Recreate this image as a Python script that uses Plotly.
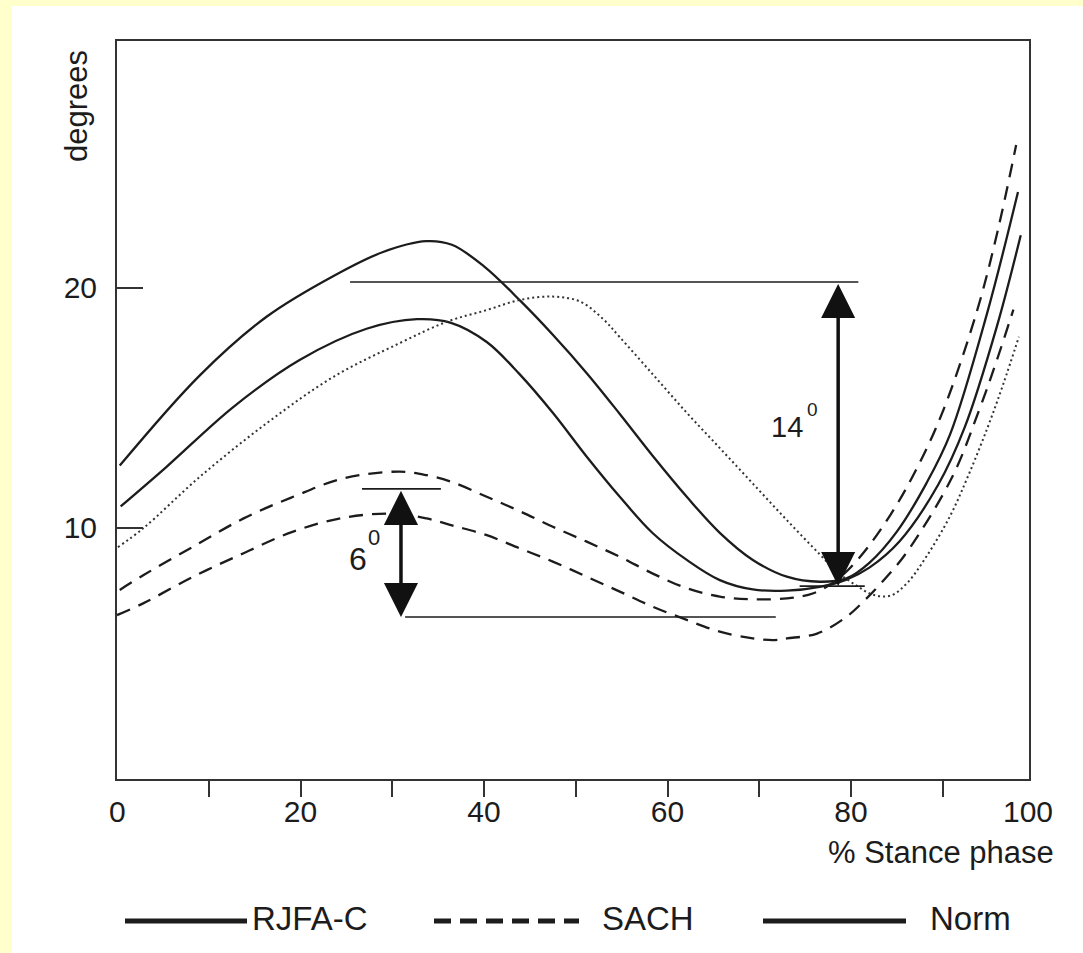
import plotly.graph_objects as go

# ---------------- data ----------------
# RJFA-C, upper solid curve
rjfa_up_x = [0.3, 9, 16.3, 23.6, 29, 33.7, 36.5, 40, 44, 47.5, 51.2, 54.8, 58.4,
             62.1, 65.7, 69.3, 73, 76.6, 79.5, 82, 85, 88.2, 90.8, 94.8, 98.2]
rjfa_up_y = [12.6, 16.35, 18.8, 20.5, 21.5, 21.95, 21.8, 20.9, 19.45, 18.05, 16.45, 14.75, 13.0,
             11.3, 9.8, 8.67, 7.97, 7.76, 7.9, 8.55, 9.85, 11.85, 13.9, 18.9, 24.0]
# RJFA-C, lower solid curve
rjfa_lo_x = [0.4, 5.4, 12.7, 19.9, 27.2, 32.7, 36.4, 40.3, 43.9, 47.5, 51.2, 54.8, 58.4,
             62.1, 65.7, 69.3, 73, 76.6, 79.5, 82, 85.3, 89.5, 92.4, 95.9, 98.5]
rjfa_lo_y = [10.9, 12.55, 15.05, 17.0, 18.3, 18.7, 18.55, 17.75, 16.4, 14.8, 12.97, 11.3, 9.78,
             8.67, 7.83, 7.44, 7.39, 7.55, 7.85, 8.35, 9.45, 11.8, 14.2, 18.4, 22.2]
# SACH, upper dashed curve
sach_up_x = [0.3, 2.9, 8.3, 13.8, 19.2, 24.6, 30.8, 33.75, 36.6, 40.3, 43.9, 47.5, 51.2, 54.8,
             58.4, 62.1, 65.7, 69.3, 73, 75.9, 78.5, 81, 84.3, 87.2, 90, 93.7, 96, 98.0]
sach_up_y = [7.42, 8.04, 9.22, 10.4, 11.3, 12.06, 12.35, 12.2, 11.9, 11.3, 10.7, 10.05, 9.43, 8.8,
             8.1, 7.49, 7.14, 7.03, 7.07, 7.28, 7.85, 8.8, 10.55, 12.5, 14.85, 19.0, 22.4, 25.96]
# SACH, lower dashed curve
sach_lo_x = [0, 2.9, 8.3, 13.8, 19.2, 24.6, 30.1, 33.75, 36.6, 40.3, 43.9, 47.5, 51.2, 54.8,
             58.4, 62.1, 65.7, 69.3, 71.7, 73, 76.3, 79.5, 81.7, 83.9, 86.1, 91, 94.0, 95.9, 97.7]
sach_lo_y = [6.37, 6.87, 7.97, 8.95, 9.85, 10.42, 10.6, 10.4, 10.1, 9.7, 9.15, 8.6, 7.97, 7.35,
             6.72, 6.17, 5.68, 5.4, 5.33, 5.4, 5.6, 6.3, 7.07, 7.97, 9.0, 12.1, 14.95, 17.0, 19.1]
# Norm, dotted curve
norm_x = [0.1, 2.9, 9.05, 16.3, 23.6, 30.8, 36, 40.3, 43.9, 47.5, 50.5, 53, 54.8, 58.4, 62.1,
          65.7, 69.3, 73, 76.6, 78.4, 80.6, 82.4, 84.3, 86.1, 88.2, 90.8, 92.8, 94.9, 96.6, 98.3]
norm_y = [9.2, 10.0, 12.14, 14.36, 16.3, 17.7, 18.6, 19.08, 19.5, 19.64, 19.43, 18.7, 17.95, 16.4,
          14.8, 13.33, 11.85, 10.33, 8.9, 8.2, 7.6, 7.22, 7.18, 7.7, 8.8, 10.5, 12.2, 14.2, 16.0, 17.97]

# range markers of the two annotated differences
diff14_x = 78.6
diff14_top, diff14_bottom = 20.25, 7.58
diff14_top_line_x = [25.4, 80.8]
diff14_bottom_line_x = [74.4, 81.5]
diff6_x = 30.95
diff6_top, diff6_bottom = 11.63, 6.29
diff6_top_line_x = [26.7, 35.3]
diff6_bottom_line_x = [31.4, 71.8]

x_tick_vals = [10, 20, 30, 40, 50, 60, 70, 80, 90]
x_tick_text = ["", "20", "", "40", "", "60", "", "80", ""]
y_tick_vals = [10, 20]
y_tick_text = ["10", "20"]

legend_labels = ["RJFA-C", "SACH", "Norm"]

# ---------------- figure ----------------
INK = "#1c1c1c"
FONT = "Liberation Sans, Arial, sans-serif"

W, H = 1083, 953
L, R, T, B = 117, 54, 41, 174
PW, PH = W - L - R, H - T - B


def px_x(px):
    return (px - L) / PW


def px_y(py):
    return (H - B - py) / PH


fig = go.Figure()

curve_style = dict(shape="spline", smoothing=1.0)
fig.add_trace(go.Scatter(x=rjfa_up_x, y=rjfa_up_y, mode="lines", name="RJFA-C",
                         line=dict(color=INK, width=2.3, **curve_style)))
fig.add_trace(go.Scatter(x=rjfa_lo_x, y=rjfa_lo_y, mode="lines", name="RJFA-C",
                         line=dict(color=INK, width=2.3, **curve_style)))
fig.add_trace(go.Scatter(x=sach_up_x, y=sach_up_y, mode="lines", name="SACH",
                         line=dict(color=INK, width=2.3, dash="14px,9px", **curve_style)))
fig.add_trace(go.Scatter(x=sach_lo_x, y=sach_lo_y, mode="lines", name="SACH",
                         line=dict(color=INK, width=2.3, dash="14px,9px", **curve_style)))
fig.add_trace(go.Scatter(x=norm_x, y=norm_y, mode="lines", name="Norm",
                         line=dict(color="#333333", width=2, dash="2px,3px", **curve_style)))

shapes = []
# white page on a pale-yellow frame
shapes.append(dict(type="rect", xref="paper", yref="paper", layer="below",
                   x0=px_x(12), x1=px_x(W + 5), y0=px_y(H + 5), y1=px_y(6),
                   fillcolor="white", line=dict(width=0)))
# horizontal reference lines
for xs, yv in [(diff14_top_line_x, diff14_top), (diff14_bottom_line_x, diff14_bottom),
               (diff6_top_line_x, diff6_top), (diff6_bottom_line_x, diff6_bottom)]:
    shapes.append(dict(type="line", xref="x", yref="y", x0=xs[0], x1=xs[1], y0=yv, y1=yv,
                       line=dict(color=INK, width=1.6)))

# legend samples
leg_y = px_y(921)
shapes.append(dict(type="line", xref="paper", yref="paper", x0=px_x(125), x1=px_x(247),
                   y0=leg_y, y1=leg_y, line=dict(color=INK, width=5)))
shapes.append(dict(type="line", xref="paper", yref="paper", x0=px_x(434), x1=px_x(579),
                   y0=leg_y, y1=leg_y, line=dict(color=INK, width=5, dash="17px,9px")))
shapes.append(dict(type="line", xref="paper", yref="paper", x0=px_x(763), x1=px_x(906),
                   y0=leg_y, y1=leg_y, line=dict(color=INK, width=5)))

annotations = []
# double-headed arrows
for xv, y_top, y_bot in [(diff14_x, diff14_top, diff14_bottom), (diff6_x, diff6_top, diff6_bottom)]:
    annotations.append(dict(x=xv, y=y_bot, ax=xv, ay=y_top, xref="x", yref="y", axref="x", ayref="y",
                            text=" ", font=dict(size=1), showarrow=True, arrowside="end+start",
                            arrowhead=2, startarrowhead=2, arrowsize=1.95, startarrowsize=1.95,
                            arrowwidth=3.5, arrowcolor="#111111", standoff=0, startstandoff=0))


def txt(x, y, text, size, ref="x", **kw):
    d = dict(x=x, y=y, xref=ref, yref=ref.replace("x", "y") if ref == "x" else ref, text=text,
             showarrow=False, xanchor="center", yanchor="middle",
             font=dict(family=FONT, size=size, color=INK))
    d.update(kw)
    return d


# degree labels
annotations += [
    txt(73.0, 14.2, "14", 29),
    txt(75.75, 14.95, "0", 19),
    txt(26.3, 8.7, "6", 32),
    txt(28.0, 9.6, "0", 22),
]
# axis titles and end tick labels
annotations += [
    txt(px_x(77), px_y(106), "degrees", 31, ref="paper", textangle=-90),
    txt(px_x(1056), px_y(852), "% Stance phase", 31, ref="paper", xanchor="right"),
    txt(px_x(117), px_y(811), "0", 30, ref="paper"),
    txt(px_x(1028), px_y(811), "100", 30, ref="paper"),
]
# legend labels
for lbl, left in zip(legend_labels, [250, 600, 928]):
    annotations.append(txt(px_x(left), px_y(918), lbl, 33, ref="paper", xanchor="left"))

fig.update_layout(
    width=W, height=H,
    margin=dict(l=L, r=R, t=T, b=B),
    paper_bgcolor="#FFFFCC",
    plot_bgcolor="white",
    showlegend=False,
    shapes=shapes,
    annotations=annotations,
    font=dict(family=FONT, color=INK),
)
fig.update_xaxes(range=[0, 99.4], showgrid=False, zeroline=False,
                 showline=True, mirror=True, linecolor="#333333", linewidth=2,
                 ticks="outside", ticklen=16, tickwidth=1.5, tickcolor="#333333",
                 tickvals=x_tick_vals, ticktext=x_tick_text, ticklabelstandoff=-11,
                 tickfont=dict(family=FONT, size=30, color=INK))
fig.update_yaxes(range=[-0.458, 30.29], showgrid=False, zeroline=False,
                 showline=True, mirror=True, linecolor="#333333", linewidth=2,
                 ticks="inside", ticklen=26, tickwidth=1.5, tickcolor="#333333",
                 tickvals=y_tick_vals, ticktext=y_tick_text, ticklabelstandoff=12,
                 tickfont=dict(family=FONT, size=30, color=INK))

fig.write_html("out.html", config={"displayModeBar": False},
               post_script="document.body.style.margin='0';document.body.style.padding='0';")
